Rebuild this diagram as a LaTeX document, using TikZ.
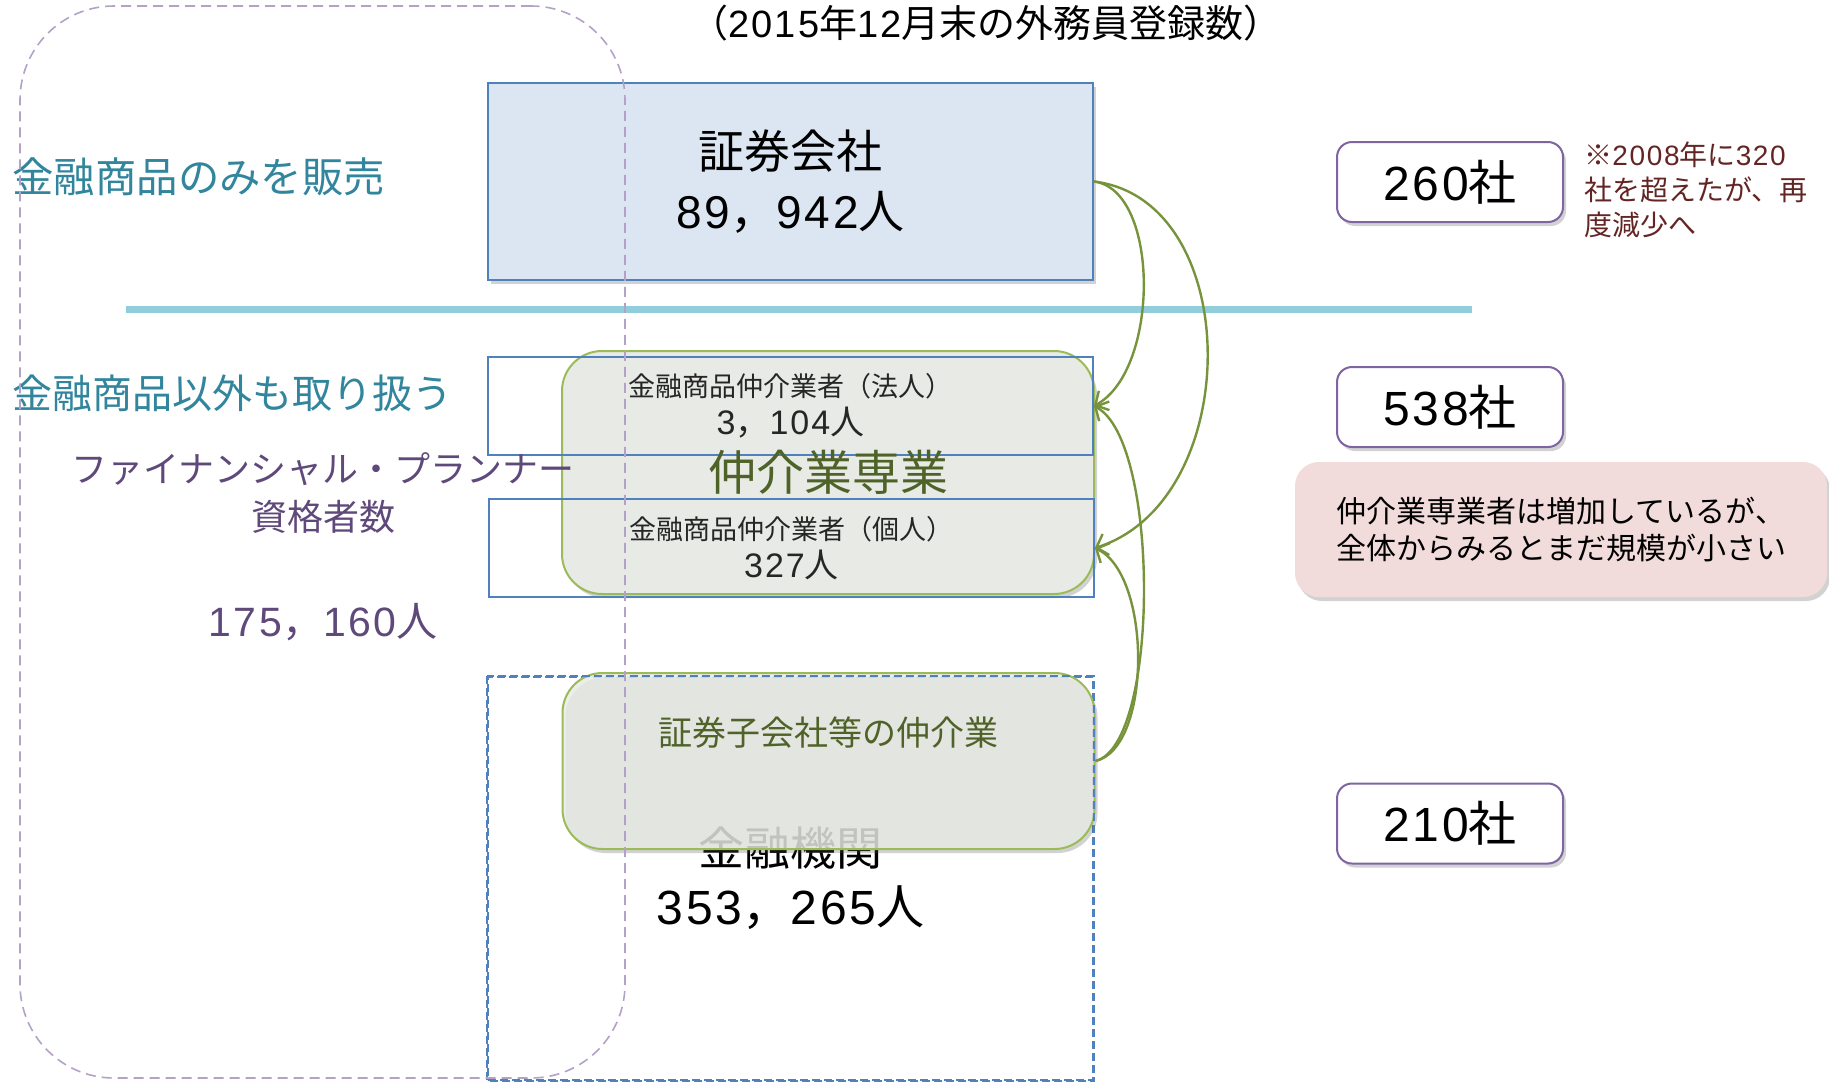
\documentclass[tikz,border=0pt]{standalone}
\usepackage{fontspec}
\setmainfont{Noto Sans CJK JP}
\newfontfamily\numf[LetterSpace=6]{Liberation Sans}
\usetikzlibrary{shadows,arrows.meta}
\definecolor{bluebd}{HTML}{4F81BD}
\definecolor{bluefill}{HTML}{DCE6F2}
\definecolor{tealtxt}{HTML}{31859C}
\definecolor{fptxt}{HTML}{5F497A}
\definecolor{notetxt}{HTML}{632523}
\definecolor{greentxt}{HTML}{4F6228}
\definecolor{greenbd}{HTML}{9BBB59}
\definecolor{greenfill}{HTML}{E8EAE5}
\definecolor{arrowgreen}{HTML}{77933C}
\definecolor{purplebd}{HTML}{8064A2}
\definecolor{purpledash}{HTML}{B3A2C7}
\definecolor{cyanln}{HTML}{92CDDC}
\definecolor{pinkfill}{HTML}{F2DCDB}
\begin{document}
\begin{tikzpicture}[x=0.5pt,y=-0.5pt,
  shad/.style={drop shadow={shadow xshift=1.5pt,shadow yshift=-2pt,opacity=0.25,fill=black!70}},
  secbox/.style={draw=bluebd,line width=1pt,fill=bluefill,minimum width=302.5pt,minimum height=98.5pt,inner sep=0pt,align=center,shad},
  midbox/.style={draw=bluebd,line width=0.9pt,minimum width=302.5pt,minimum height=49pt,inner sep=0pt,align=center,text=black!85},
  kikanbox/.style={draw=bluebd,line width=0.9pt,dash pattern=on 4pt off 2pt,minimum width=302.5pt,minimum height=201.5pt,inner sep=0pt,align=center},
  greenbox/.style={draw=greenbd,line width=1pt,fill=greenfill,rounded corners=20pt,minimum width=266pt,inner sep=0pt,shad},
  fprect/.style={draw=purpledash,line width=0.8pt,dash pattern=on 5pt off 3pt,rounded corners=47pt,minimum width=302.5pt,minimum height=536pt,inner sep=0pt},
  cntbox/.style={draw=purplebd,line width=1pt,fill=white,rounded corners=7.5pt,minimum width=113pt,minimum height=40pt,inner sep=0pt,shad,font=\fontsize{24pt}{30pt}\selectfont},
  pinkbox/.style={fill=pinkfill,rounded corners=12pt,minimum width=266pt,minimum height=67.5pt,inner sep=0pt,align=center,shad,font=\fontsize{15pt}{18.5pt}\selectfont},
  leftlbl/.style={anchor=west,text=tealtxt,inner sep=0pt},
  fplbl/.style={text=fptxt,align=center,inner sep=0pt},
  grntxt/.style={text=greentxt,inner sep=0pt},
  arr/.style={draw=arrowgreen,line width=1.2pt,-{Straight Barb[length=5pt,width=11pt]}},
  cyanline/.style={draw=cyanln,line width=3.5pt}
]
\useasboundingbox (0,0) rectangle (1829,1083);

% title
\node[anchor=base,inner sep=0pt,font=\fontsize{19pt}{21pt}\selectfont] (title) at (986,37) {（{\numf 2015}年{\numf 12}月末の外務員登録数）};

% securities companies
\node[secbox,font=\fontsize{23pt}{30pt}\selectfont] (sec) at (790.5,181.5) {証券会社\\{\numf 89}，{\numf 942}人};

% separator
\coordinate (cl) at (126,309);
\coordinate (cr) at (1472,309);
\draw[cyanline] (cl) -- (cr);

% left labels
\node[leftlbl,font=\fontsize{20.7pt}{24pt}\selectfont] (only) at (12,177) {金融商品のみを販売};
\node[leftlbl,font=\fontsize{20pt}{24pt}\selectfont] (other) at (12,393) {金融商品以外も取り扱う};

% specialised intermediaries
\node[greenbox,minimum height=121.5pt] (green1) at (828,472.5) {};
\node[midbox,font=\fontsize{13.5pt}{19pt}\selectfont] (hojin) at (790.5,406) {金融商品仲介業者（法人）\\{\fontsize{17pt}{19pt}\selectfont{\numf 3}，{\numf 104}人}};
\node[midbox,font=\fontsize{13.5pt}{19pt}\selectfont] (kojin) at (791.5,548) {金融商品仲介業者（個人）\\{\fontsize{17pt}{19pt}\selectfont{\numf 327}人}};

% financial institutions
\node[kikanbox,font=\fontsize{23pt}{29.5pt}\selectfont] (kikan) at (790.5,878.5) {金融機関\\{\fontsize{24pt}{29.5pt}\selectfont{\numf 353}，{\numf 265}人}};
\node[greenbox,minimum height=88pt,fill opacity=0.82] (green2) at (828.5,761) {};
\draw[draw=bluebd,line width=0.9pt,dash pattern=on 4pt off 2pt] (kikan.north west) rectangle (kikan.south east);

\node[grntxt,font=\fontsize{24pt}{28pt}\selectfont] (sengyo) at (828,472) {仲介業専業};
\node[grntxt,font=\fontsize{17pt}{20pt}\selectfont] (kogaisha) at (828,733) {証券子会社等の仲介業};

% FP outline
\node[fprect] (fp) at (322.5,542) {};
\node[fplbl,font=\fontsize{18pt}{24pt}\selectfont] (fptitle) at (323,493) {ファイナンシャル・プランナー\\資格者数};
\node[fplbl,font=\fontsize{20.5pt}{24pt}\selectfont] (fpnum) at (323,622) {{\numf 175}，{\numf 160}人};

% counts
\node[cntbox] (c260) at (1450,182) {{\numf 260}社};
\node[cntbox] (c538) at (1450,407) {{\numf 538}社};
\node[cntbox] (c210) at (1450,823.5) {{\numf 210}社};
\node[anchor=west,align=left,text=notetxt,inner sep=0pt,font=\fontsize{14pt}{17.5pt}\selectfont] (note) at (1584,190) {※{\numf 2008}年に{\numf 320}\\社を超えたが、再\\度減少へ};
\node[pinkbox] (pink) at (1561,529.5) {仲介業専業者は増加しているが、\\全体からみるとまだ規模が小さい};

% arrows
\draw[arr] (sec.east) .. controls (1160,190) and (1160,370) .. (hojin.east);
\draw[arr] (sec.east) .. controls (1245,200) and (1245,500) .. (kojin.east);
\draw[arr] (green2.east) .. controls (1160,745) and (1160,440) .. (hojin.east);
\draw[arr] (green2.east) .. controls (1152,748) and (1152,575) .. (kojin.east);
\end{tikzpicture}
\end{document}
